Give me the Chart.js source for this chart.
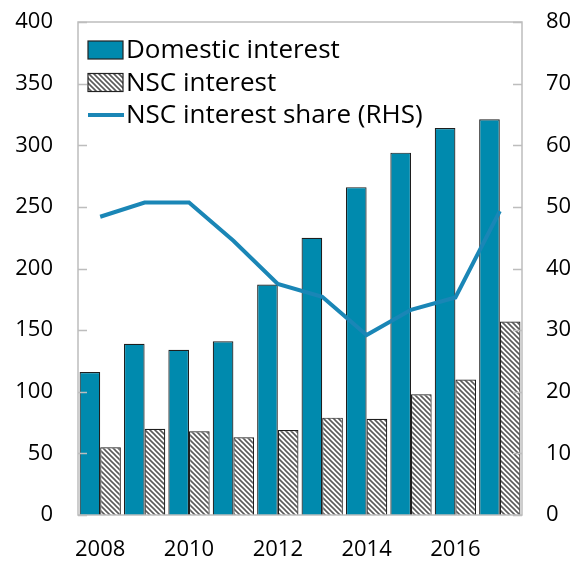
<!DOCTYPE html>
<html>
<head>
<meta charset="utf-8">
<script src="https://cdn.jsdelivr.net/npm/chart.js@4/dist/chart.umd.min.js"></script>
<style>
  html, body { margin: 0; padding: 0; background: #fff; }
  #wrap { width: 573px; height: 561px; }
</style>
</head>
<body>
<div id="wrap"><canvas id="c" width="573" height="561"></canvas></div>
<script>
const years = ['2008','2009','2010','2011','2012','2013','2014','2015','2016','2017'];
const domesticInterest = [116, 139, 134, 141, 187, 225, 266, 294, 314, 321];
const nscInterest = [55, 70, 68, 63, 69, 79, 78, 98, 110, 157];
const nscShare = [48.4, 50.7, 50.7, 44.5, 37.5, 35.4, 29.2, 33.3, 35.3, 49.3];
const leftTicks = [0, 50, 100, 150, 200, 250, 300, 350, 400];
const rightTicks = [0, 10, 20, 30, 40, 50, 60, 70, 80];
const seriesNames = ['Domestic interest', 'NSC interest', 'NSC interest share (RHS)'];

const BLUE = '#008aae';
const LINE = '#1a86b6';
const FONT = '"Open Sans", "Noto Sans", sans-serif';

function hatch() {
  const s = 5;
  const p = document.createElement('canvas');
  p.width = s; p.height = s;
  const g = p.getContext('2d');
  g.fillStyle = '#fff';
  g.fillRect(0, 0, s, s);
  g.strokeStyle = '#5a5a5a';
  g.lineWidth = 1.6;
  g.beginPath();
  g.moveTo(-1, -1); g.lineTo(s + 1, s + 1);
  g.moveTo(-1 - s, -1); g.lineTo(1, s + 1);
  g.moveTo(s - 1, -1); g.lineTo(2 * s + 1, s + 1);
  g.stroke();
  return g.createPattern(p, 'repeat');
}
const HATCH = hatch();

const frame = {
  id: 'frame',
  afterDatasetsDraw(chart) {
    const { ctx, chartArea: a } = chart;
    const y = chart.scales.y, y1 = chart.scales.y1;
    ctx.save();
    ctx.strokeStyle = '#bdbdbd';
    ctx.lineWidth = 1.5;
    ctx.strokeRect(a.left, a.top, a.right - a.left, a.bottom - a.top);
    ctx.beginPath();
    y.ticks.forEach(t => {
      const py = Math.round(y.getPixelForValue(t.value)) + 0.5;
      ctx.moveTo(a.left, py); ctx.lineTo(a.left + 9, py);
    });
    y1.ticks.forEach(t => {
      const py = Math.round(y1.getPixelForValue(t.value)) + 0.5;
      ctx.moveTo(a.right - 9, py); ctx.lineTo(a.right, py);
    });
    ctx.stroke();
    ctx.restore();
  },
  afterDraw(chart) {
    const { ctx, chartArea: a } = chart;
    const ds = chart.data.datasets;
    ctx.save();
    ctx.font = '26px ' + FONT;
    ctx.textBaseline = 'middle';
    ctx.fillStyle = '#000';
    const x0 = a.left + 10, rowH = 32.5, y0 = a.top + 28;
    ds.forEach((d, i) => {
      const cy = y0 + i * rowH;
      if (d.type === 'line') {
        ctx.strokeStyle = d.borderColor;
        ctx.lineWidth = 4;
        ctx.beginPath();
        ctx.moveTo(x0, cy); ctx.lineTo(x0 + 36, cy);
        ctx.stroke();
      } else {
        ctx.fillStyle = d.backgroundColor;
        ctx.fillRect(x0, cy - 9, 35, 18);
        ctx.strokeStyle = '#222';
        ctx.lineWidth = 1.2;
        ctx.strokeRect(x0, cy - 9, 35, 18);
      }
      ctx.fillStyle = '#000';
      ctx.fillText(d.label, x0 + 38, cy + 1);
    });
    ctx.restore();
  }
};

function noPad(s) { s.paddingTop = 0; s.paddingBottom = 0; s.paddingLeft = 0; s.paddingRight = 0; }

new Chart(document.getElementById('c'), {
  data: {
    labels: years,
    datasets: [
      { type: 'bar', label: seriesNames[0], data: domesticInterest, backgroundColor: BLUE,
        borderColor: '#1e1e1e', borderWidth: 1.2, yAxisID: 'y', order: 2,
        categoryPercentage: 0.93, barPercentage: 1.0 },
      { type: 'bar', label: seriesNames[1], data: nscInterest, backgroundColor: HATCH,
        borderColor: '#1e1e1e', borderWidth: 1.2, yAxisID: 'y', order: 3,
        categoryPercentage: 0.93, barPercentage: 1.0 },
      { type: 'line', label: seriesNames[2], data: nscShare, borderColor: LINE,
        backgroundColor: LINE, borderWidth: 4, pointRadius: 0, tension: 0,
        yAxisID: 'y1', order: 1 }
    ]
  },
  options: {
    responsive: false,
    animation: false,
    devicePixelRatio: 1,
    layout: { padding: { top: 22, left: 0, right: 0, bottom: 0 } },
    plugins: { legend: { display: false }, tooltip: { enabled: false } },
    scales: {
      x: {
        grid: { display: false, drawTicks: false },
        border: { display: false },
        ticks: {
          autoSkip: false, maxRotation: 0, padding: 22, color: '#000',
          font: { family: FONT, size: 22 },
          callback: function (v, i) { return i % 2 === 0 ? this.getLabelForValue(v) : ''; }
        },
        afterFit(s) { s.height = 46; noPad(s); }
      },
      y: {
        position: 'left', min: 0, max: 400,
        afterBuildTicks(s) { s.ticks = leftTicks.map(v => ({ value: v })); },
        grid: { display: false, drawTicks: false },
        border: { display: false },
        ticks: { padding: 25, color: '#000', font: { family: FONT, size: 22 } },
        afterFit(s) { s.width = 78; noPad(s); }
      },
      y1: {
        position: 'right', min: 0, max: 80,
        afterBuildTicks(s) { s.ticks = rightTicks.map(v => ({ value: v })); },
        grid: { display: false, drawTicks: false },
        border: { display: false },
        ticks: { padding: 24, color: '#000', font: { family: FONT, size: 22 } },
        afterFit(s) { s.width = 51; noPad(s); }
      }
    }
  },
  plugins: [frame]
});
</script>
</body>
</html>
